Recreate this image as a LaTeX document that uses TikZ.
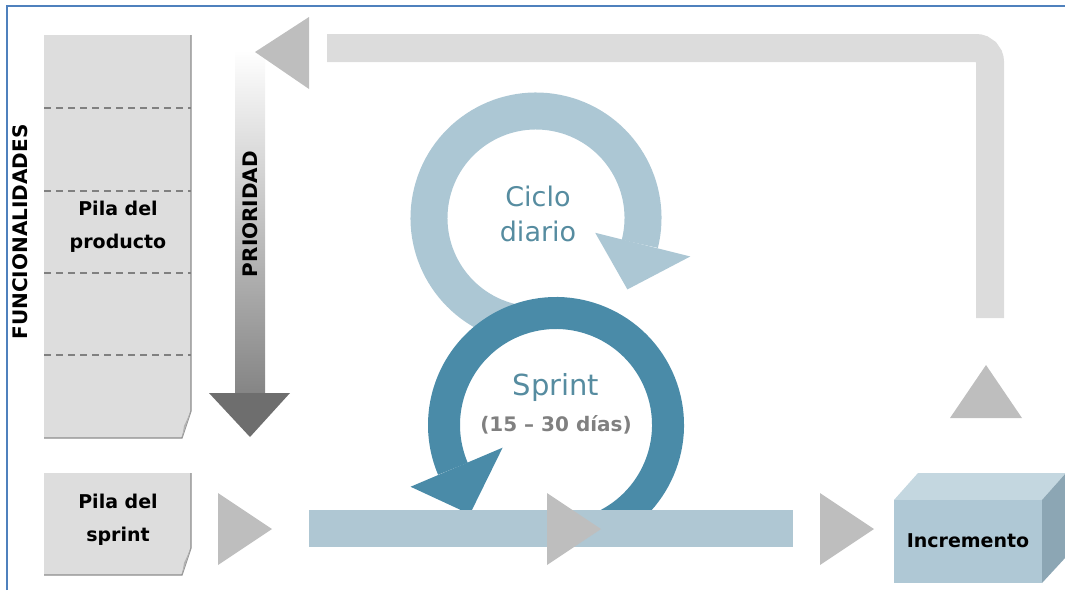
\documentclass[tikz,border=0pt]{standalone}
\usepackage{fontspec}
\setmainfont{DejaVu Sans}
\usetikzlibrary{arrows}
\definecolor{frameblue}{RGB}{79,129,189}
\definecolor{paper}{RGB}{221,221,221}
\definecolor{tri}{RGB}{190,190,190}
\definecolor{loopgray}{RGB}{220,220,220}
\definecolor{daylight}{RGB}{172,199,212}
\definecolor{sprintdark}{RGB}{74,139,168}
\definecolor{bartint}{RGB}{175,199,211}
\definecolor{labelteal}{RGB}{86,140,160}
\definecolor{boxfront}{RGB}{175,200,213}
\definecolor{boxtop}{RGB}{196,215,224}
\definecolor{boxside}{RGB}{140,166,180}
\tikzset{
  boldtext/.style={font=\bfseries\fontsize{19}{33}\selectfont, align=center},
  sidetext/.style={font=\bfseries\fontsize{20}{24}\selectfont, rotate=90}
}

\begin{document}
\begin{tikzpicture}[x=1pt, y=-1pt]
    \useasboundingbox (0,0) rectangle (1065,590);
    \draw[color=frameblue, line width=2.5pt] (7,590) |- (1065,6);
    \foreach \ya/\yb in {35/438, 473/575} {
      \fill[color=paper] (44,\ya) -- (191,\ya) -- (191,\yb-27) -- (182,\yb) -- (44,\yb) -- cycle;
      \draw[color=black!45, line width=1.2pt] (191,\ya) -- (191,\yb-27) -- (182,\yb) -- (44,\yb);
      \fill[color=black!30] (191,\yb-27) -- (182,\yb) -- (184,\yb-12) -- cycle;
    }
    \foreach \y in {108,191,273,355}
    \draw[color=black!50, line width=1.2pt, dash pattern=on 7pt off 5pt] (44,\y) -- (191,\y);
    \node[boldtext] (producto) at (118,227) {Pila del\\producto};
    \node[boldtext] (pilasprint) at (118,520) {Pila del\\sprint};
    \node[sidetext] (funciones) at (20,232) {FUNCIONALIDADES};
    \shade[top color=white, bottom color=black!48] (235,50) rectangle (265,394);
    \fill[color=black!57] (209,393) -- (290,393) -- (250,437) -- cycle;
    \node[sidetext] (prioridad) at (250,214) {PRIORIDAD};
    \draw[color=loopgray, line width=28pt, rounded corners=14pt] (327,48) -| (990,318);
    \fill[color=tri] (309,17) -- (309,89) -- (255,52) -- cycle;
    \fill[color=tri] (950,418) -- (1022,418) -- (986,365) -- cycle;
    \draw[shift={(536,218)}, color=daylight, line width=37pt] (104:107) arc[start angle=104, end angle=374, radius=107];
    \fill[shift={(536,218)}, color=daylight] (14:61) -- (14:159) -- (38:116) -- cycle;
    \draw[shift={(556,425)}, color=sprintdark, line width=32pt] (68:112) arc[start angle=68, end angle=-203, radius=112];
    \fill[shift={(556,425)}, color=sprintdark] (157:58) -- (157:158) -- (134:124) -- cycle;
    \fill[color=bartint] (309,510) rectangle (793,547);
    \foreach \x in {218,547,820}
    \fill[color=tri] (\x,493) -- (\x,565) -- (\x+54,529) -- cycle;
    \fill[color=boxtop] (894,500) -- (918,473) -- (1066,473) -- (1042,500) -- cycle;
    \fill[color=boxside] (1042,500) -- (1066,473) -- (1066,557) -- (1042,583) -- cycle;
    \fill[color=boxfront] (894,500) rectangle (1042,583);
    \node[boldtext] (incremento) at (968,541) {Incremento};
    \node[font=\fontsize{27}{35}\selectfont, color=labelteal, align=center] (ciclo) at (538,214) {Ciclo\\diario};
    \node[font=\fontsize{29}{34}\selectfont, color=labelteal] (sprint) at (556,387) {Sprint};
    \node[font=\bfseries\fontsize{20}{24}\selectfont, color=black!50] (dias) at (556,425) {(15 – 30 días)};
\end{tikzpicture}
\end{document}
